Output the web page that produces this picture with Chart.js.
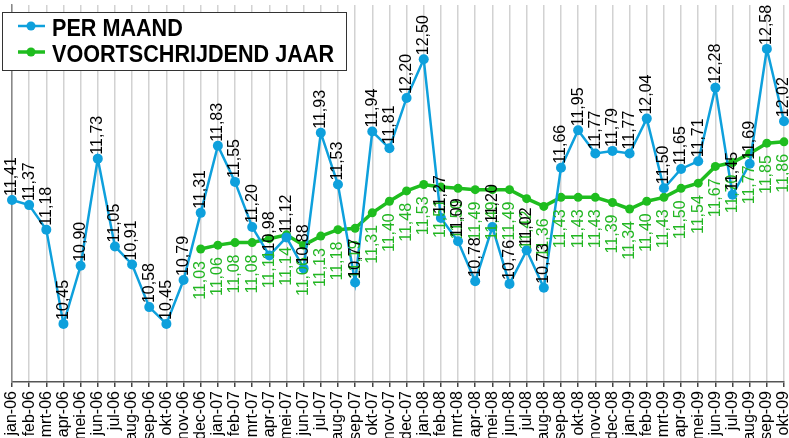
<!DOCTYPE html>
<html>
<head>
<meta charset="utf-8">
<script src="https://cdn.jsdelivr.net/npm/chart.js@4/dist/chart.umd.min.js"></script>
<style>
  html, body { margin: 0; padding: 0; background: #fff; }
  #wrap { width: 789px; height: 438px; position: relative; }
</style>
</head>
<body>
<div id="wrap"><canvas id="graph01"></canvas></div>
<script>
const months = [
  "jan-06", "feb-06", "mrt-06", "apr-06", "mei-06", "jun-06", "jul-06", "aug-06", "sep-06", "okt-06", "nov-06", "dec-06",
  "jan-07", "feb-07", "mrt-07", "apr-07", "mei-07", "jun-07", "jul-07", "aug-07", "sep-07", "okt-07", "nov-07", "dec-07",
  "jan-08", "feb-08", "mrt-08", "apr-08", "mei-08", "jun-08", "jul-08", "aug-08", "sep-08", "okt-08", "nov-08", "dec-08",
  "jan-09", "feb-09", "mrt-09", "apr-09", "mei-09", "jun-09", "jul-09", "aug-09", "sep-09", "okt-09",
];

const perMaand = [
  11.41, 11.37, 11.18, 10.45, 10.90, 11.73, 11.05, 10.91, 10.58, 10.45, 10.79, 11.31,
  11.83, 11.55, 11.20, 10.98, 11.12, 10.88, 11.93, 11.53, 10.77, 11.94, 11.81, 12.20,
  12.50, 11.27, 11.09, 10.78, 11.20, 10.76, 11.02, 10.73, 11.66, 11.95, 11.77, 11.79,
  11.77, 12.04, 11.50, 11.65, 11.71, 12.28, 11.45, 11.69, 12.58, 12.02,
];

const voortschrijdend = [
  null, null, null, null, null, null, null, null, null, null, null, 11.03,
  11.06, 11.08, 11.08, 11.11, 11.14, 11.06, 11.13, 11.18, 11.19, 11.31, 11.40, 11.48,
  11.53, 11.51, 11.50, 11.49, 11.49, 11.49, 11.42, 11.36, 11.43, 11.43, 11.43, 11.39,
  11.34, 11.40, 11.43, 11.50, 11.54, 11.67, 11.70, 11.77, 11.85, 11.86,
];

const BLUE = "#0ea0dc";
const GREEN = "#1fbd1f";
const FONT = "'Liberation Sans', Arial, sans-serif";

// rotated value labels: blue above the point, green below
const valueLabels = {
  id: "valueLabels",
  afterDatasetsDraw(chart) {
    const ctx = chart.ctx;
    [1, 0].forEach((i) => {
      const ds = chart.data.datasets[i];
      const meta = chart.getDatasetMeta(i);
      meta.data.forEach((pt, j) => {
        const v = ds.data[j];
        if (v == null) return;
        const txt = v.toFixed(2).replace(".", ",");
        ctx.save();
        ctx.translate(pt.x, pt.y);
        ctx.rotate(-Math.PI / 2);
        ctx.font = "16px " + FONT;
        ctx.textBaseline = "middle";
        ctx.fillStyle = ds.labelColor;
        if (ds.labelBelow) {
          ctx.textAlign = "right";
          ctx.fillText(txt, -12, 0);
        } else {
          ctx.textAlign = "left";
          ctx.fillText(txt, 4, 0);
        }
        ctx.restore();
      });
    });
  },
};

// boxed legend in the top left corner
const boxLegend = {
  id: "boxLegend",
  afterDraw(chart) {
    const ctx = chart.ctx;
    ctx.save();
    ctx.fillStyle = "#fff";
    ctx.strokeStyle = "#333";
    ctx.lineWidth = 1;
    ctx.fillRect(2.5, 12.5, 344, 58);
    ctx.strokeRect(2.5, 12.5, 344, 58);
    const rows = [26, 52];
    chart.data.datasets.forEach((ds, i) => {
      const y = rows[i];
      ctx.strokeStyle = ds.borderColor;
      ctx.lineWidth = ds.borderWidth;
      ctx.beginPath();
      ctx.moveTo(18, y);
      ctx.lineTo(45, y);
      ctx.stroke();
      ctx.fillStyle = ds.borderColor;
      ctx.beginPath();
      ctx.arc(31, y, 4.5, 0, Math.PI * 2);
      ctx.fill();
      ctx.save();
      ctx.translate(52, y + 10);
      ctx.scale(0.9, 1);
      ctx.fillStyle = "#000";
      ctx.font = "bold 24px " + FONT;
      ctx.textBaseline = "alphabetic";
      ctx.fillText(ds.label, 0, 0);
      ctx.restore();
    });
    ctx.restore();
  },
};

const myChart01 = new Chart(document.getElementById("graph01"), {
  type: "line",
  data: {
    labels: months,
    datasets: [
      {
        label: "PER MAAND",
        data: perMaand,
        borderColor: BLUE,
        backgroundColor: BLUE,
        borderWidth: 2.5,
        pointRadius: 5,
        pointBorderWidth: 0,
        labelColor: "#000",
        labelBelow: false,
      },
      {
        label: "VOORTSCHRIJDEND JAAR",
        data: voortschrijdend,
        borderColor: GREEN,
        backgroundColor: GREEN,
        borderWidth: 3.5,
        pointRadius: 4.5,
        pointBorderWidth: 0,
        labelColor: "#22b622",
        labelBelow: true,
      },
    ],
  },
  plugins: [valueLabels, boxLegend],
  options: {
    responsive: true,
    maintainAspectRatio: false,
    animation: false,
    layout: { padding: { left: 12, right: 1, top: 0, bottom: 0 } },
    plugins: {
      legend: { display: false },
      tooltip: { enabled: false },
    },
    scales: {
      x: {
        offset: false,
        grid: {
          color: "#d2d2d2",
          lineWidth: 1.5,
          tickColor: "#444",
          tickLength: 5,
        },
        border: { display: true, color: "#555", width: 1.5 },
        ticks: {
          color: "#000",
          font: { family: FONT, size: 16 },
          minRotation: 90,
          maxRotation: 90,
          autoSkip: false,
          padding: 4,
        },
        afterFit(scale) {
          scale.height = 56;
          scale.paddingLeft = 0;
          scale.paddingRight = 0;
        },
      },
      y: {
        min: 10,
        max: 12.92,
        grid: { display: false, drawTicks: false },
        border: { display: true, color: "#888", width: 1.5 },
        ticks: { display: false },
      },
    },
  },
});
</script>
</body>
</html>
